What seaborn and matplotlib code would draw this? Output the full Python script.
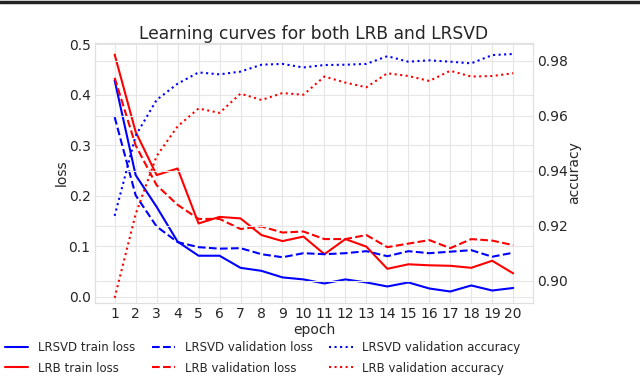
import numpy as np
import pandas as pd
import seaborn as sns
import matplotlib.pyplot as plt
from matplotlib.lines import Line2D

# values
epochs = list(range(1, 21))
lrsvd_train_loss = [0.429, 0.241, 0.178, 0.109, 0.081, 0.081, 0.057, 0.051, 0.038, 0.034,
                    0.026, 0.034, 0.028, 0.020, 0.028, 0.016, 0.010, 0.022, 0.012, 0.017]
lrsvd_val_loss = [0.356, 0.201, 0.139, 0.108, 0.098, 0.095, 0.096, 0.084, 0.078, 0.086,
                  0.084, 0.086, 0.090, 0.080, 0.090, 0.086, 0.089, 0.092, 0.079, 0.087]
lrb_train_loss = [0.480, 0.327, 0.241, 0.254, 0.145, 0.158, 0.155, 0.122, 0.110, 0.119,
                  0.084, 0.114, 0.099, 0.055, 0.064, 0.062, 0.061, 0.057, 0.071, 0.046]
lrb_val_loss = [0.434, 0.300, 0.221, 0.182, 0.154, 0.154, 0.134, 0.139, 0.127, 0.129,
                0.114, 0.114, 0.122, 0.098, 0.105, 0.112, 0.096, 0.114, 0.111, 0.102]
lrsvd_val_acc = [0.9236, 0.9527, 0.9657, 0.9716, 0.9757, 0.9750, 0.9760, 0.9785, 0.9788, 0.9775,
                 0.9784, 0.9785, 0.9788, 0.9816, 0.9796, 0.9801, 0.9796, 0.9790, 0.9820, 0.9824]
lrb_val_acc = [0.8938, 0.9242, 0.9453, 0.9561, 0.9626, 0.9610, 0.9680, 0.9657, 0.9682, 0.9676,
               0.9742, 0.9720, 0.9703, 0.9754, 0.9744, 0.9726, 0.9763, 0.9742, 0.9744, 0.9754]

sns.set_style('whitegrid', {'grid.color': '#e6e6e6', 'axes.edgecolor': '#e0e0e0'})
plt.rcParams['font.family'] = ['DejaVu Sans']
plt.rcParams['text.color'] = '#262626'
plt.rcParams['xtick.color'] = '#262626'
plt.rcParams['ytick.color'] = '#262626'

fig = plt.figure(figsize=(6.4, 3.77), dpi=100)
ax = fig.add_axes([0.148, 0.196, 0.685, 0.690])
ax2 = ax.twinx()

sns.lineplot(x=epochs, y=lrsvd_train_loss, ax=ax, color='blue', lw=1.5)
sns.lineplot(x=epochs, y=lrb_train_loss, ax=ax, color='red', lw=1.5)
sns.lineplot(x=epochs, y=lrsvd_val_loss, ax=ax, color='blue', lw=1.5, linestyle='--')
sns.lineplot(x=epochs, y=lrb_val_loss, ax=ax, color='red', lw=1.5, linestyle='--')
sns.lineplot(x=epochs, y=lrsvd_val_acc, ax=ax2, color='blue', lw=1.5, linestyle=':')
sns.lineplot(x=epochs, y=lrb_val_acc, ax=ax2, color='red', lw=1.5, linestyle=':')

ax.set_xlim(0.05, 20.95)
ax.set_ylim(-0.013, 0.503)
ax2.set_ylim(0.8919, 0.9864)
ax.set_xticks(epochs)
ax.set_yticks([0.0, 0.1, 0.2, 0.3, 0.4, 0.5])
ax2.set_yticks([0.90, 0.92, 0.94, 0.96, 0.98])
ax.tick_params(labelsize=10, length=0, pad=3)
ax2.tick_params(labelsize=10, length=0, pad=3)
for a in (ax, ax2):
    for s in a.spines.values():
        s.set_color('#e0e0e0')
ax2.grid(True, color='#e6e6e6')

ax.set_xlabel('epoch', fontsize=10, labelpad=1)
ax.set_ylabel('loss', fontsize=10, labelpad=0)
ax2.set_ylabel('accuracy', fontsize=10, labelpad=-1)
ax.set_title('Learning curves for both LRB and LRSVD', fontsize=12.3, pad=2)

handles = [
    Line2D([], [], color='blue', lw=1.5),
    Line2D([], [], color='red', lw=1.5),
    Line2D([], [], color='blue', lw=1.5, linestyle='--'),
    Line2D([], [], color='red', lw=1.5, linestyle='--'),
    Line2D([], [], color='blue', lw=1.5, linestyle=':'),
    Line2D([], [], color='red', lw=1.5, linestyle=':'),
]
labels = ['LRSVD train loss', 'LRB train loss',
          'LRSVD validation loss', 'LRB validation loss',
          'LRSVD validation accuracy', 'LRB validation accuracy']
fig.legend(handles, labels, ncol=3, loc='lower left', bbox_to_anchor=(0.0, -0.006),
           frameon=False, fontsize=8.5, handlelength=2.0, handletextpad=0.8,
           columnspacing=1.4, labelspacing=0.65, borderaxespad=0.0)

# dark strip along the top edge
fig.add_artist(Line2D([0, 1], [0.996, 0.996], transform=fig.transFigure, color='#222222', lw=2.5))

plt.savefig('out.png', dpi=100)
